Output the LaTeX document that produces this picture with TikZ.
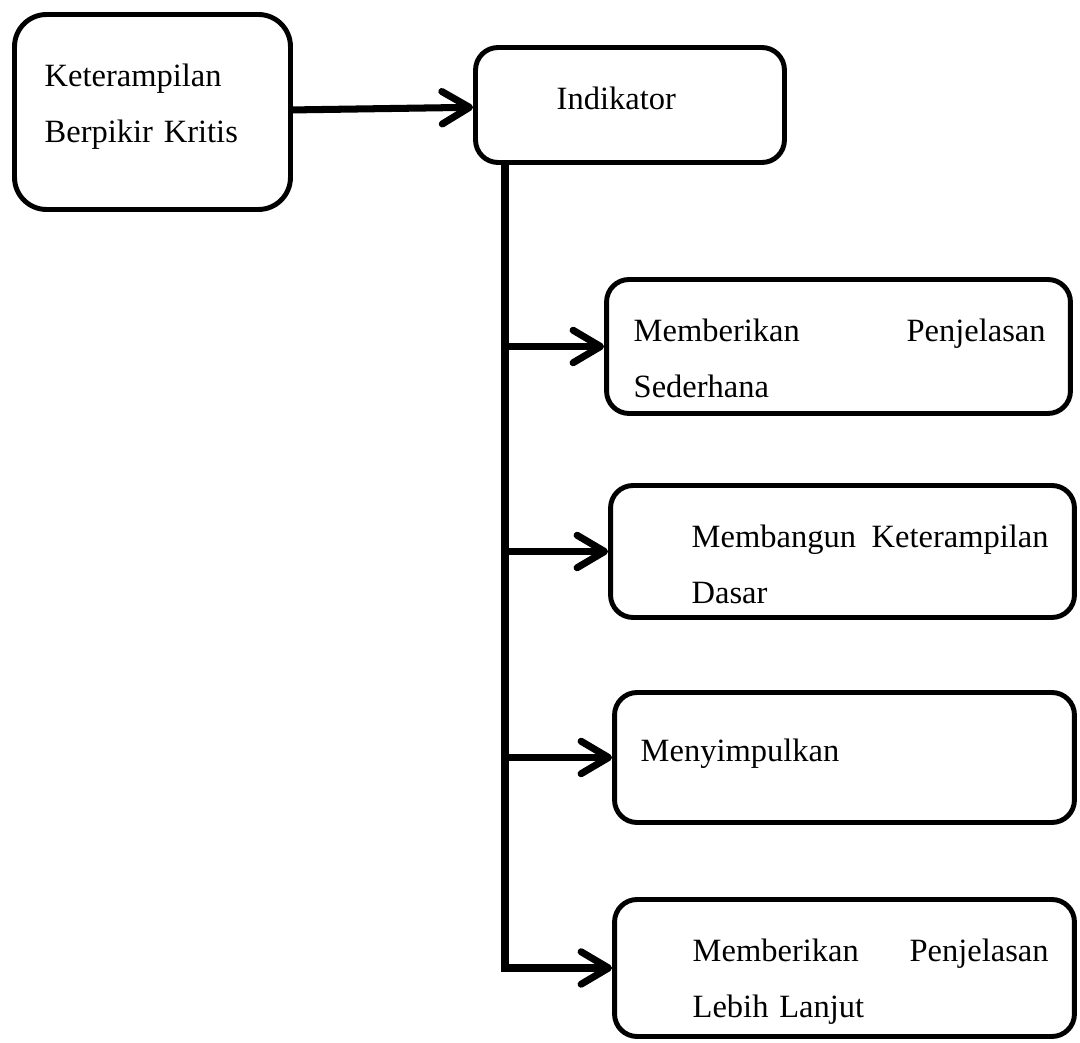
\documentclass[tikz,border=0pt]{standalone}
\usepackage{fontspec}
\setmainfont{Liberation Serif}
\usetikzlibrary{arrows.meta, positioning}

\begin{document}
\begin{tikzpicture}[x=0.02cm, y=-0.02cm, thick]
        % Define block styles
        \tikzstyle{block} = [rectangle, draw=black, line width=2.8pt, rounded corners=0.45cm, inner sep=0pt]
        \tikzstyle{txt} = [inner sep=0pt, anchor=base west, align=left, font=\fontsize{18.5}{31.4}\selectfont]
        \tikzstyle{line} = [draw, line width=4pt, -{Straight Barb[length=5.5mm, width=6.5mm, round]}]

        \useasboundingbox (0,0) rectangle (1080,1043);

        % Define nodes
        \node [block, rounded corners=0.64cm, minimum width=5.52cm, minimum height=3.9cm] (K) at (152.5,112) {};
        \node [block, minimum width=6.18cm, minimum height=2.3cm] (I) at (630,105) {};
        \node [block, minimum width=9.28cm, minimum height=2.68cm] (c1) at (838.5,346.5) {};
        \node [block, minimum width=9.28cm, minimum height=2.64cm] (c2) at (842.5,551.5) {};
        \node [block, minimum width=9.2cm, minimum height=2.6cm] (c3) at (844.5,757.5) {};
        \node [block, minimum width=9.2cm, minimum height=2.74cm] (c4) at (844.5,968) {};

        % Texts in the blocks
        \node [txt, text width=4.4cm] (Ktxt) at (44,87) {Keterampilan\\Berpikir Kritis};
        \node [txt] (Itxt) at (556,110) {Indikator};
        \node [txt, text width=8.24cm] (c1txt) at (633,342) {Memberikan\hfill Penjelasan\\Sederhana};
        \node [txt, text width=7.14cm] (c2txt) at (691,548) {Membangun\hfill Keterampilan\\Dasar};
        \node [txt] (c3txt) at (640,762) {Menyimpulkan};
        \node [txt, text width=7.12cm] (c4txt) at (692,962) {Memberikan\hfill Penjelasan\\Lebih Lanjut};

        % Connect nodes with paths
        \coordinate (T) at (505,163);
        \path [line] (K) -- (I);
        \path [line] (T) |- (c4.west);
        \path [line] (c1.west -| T) -- (c1.west);
        \path [line] (c2.west -| T) -- (c2.west);
        \path [line] (c3.west -| T) -- (c3.west);

\end{tikzpicture}
\end{document}
